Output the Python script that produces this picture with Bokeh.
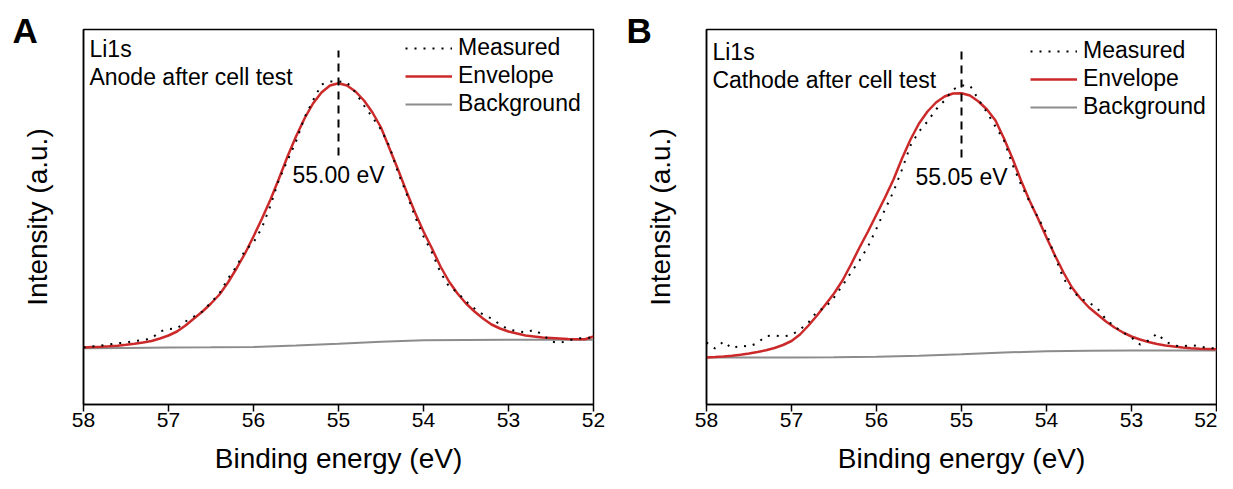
import numpy as np
from bokeh.plotting import figure
from bokeh.models import Range1d, Label, Legend, LegendItem, FixedTicker, Title
from bokeh.layouts import row
from bokeh.embed import file_html
from bokeh.resources import INLINE

FONT = "Liberation Sans"

# ---------------- data ----------------
binding_energy = np.round(np.linspace(58.0, 52.0, 61), 2)      # 0.1 eV grid
bg_energy = np.round(np.linspace(58.0, 52.0, 13), 2)           # 0.5 eV grid
x_ticks = [58, 57, 56, 55, 54, 53, 52]

# Panel A  (anode)
measured_A = [57, 58, 59, 60, 61.3, 62, 63.5, 64.5, 66, 73, 75.5, 76, 83, 88, 93, 102, 111, 126, 138, 154,
              162, 177, 199, 225, 244, 263, 287, 304, 320, 323, 323, 322, 312, 299, 287, 275, 258, 232, 211, 188,
              168, 152, 132, 118, 112, 103, 96, 90, 86, 80, 75, 73.5, 72, 74.7, 70, 63, 61.5, 64, 66, 66.5, 67]
envelope_A = [57, 57.5, 57.8, 58.2, 58.8, 59.7, 60.8, 62, 63.5, 66, 69, 73, 79, 86, 93, 101, 110, 122, 136, 151,
              168, 186, 205, 226, 248, 268, 286, 301, 312, 319, 321.3, 319, 313, 304, 292, 277, 256, 235, 213, 192,
              173, 156, 138, 123, 111, 101, 93, 86, 80, 76, 73, 71, 69, 68, 67, 66.5, 66, 65.5, 65.3, 65.3, 68]
background_A = [56.3, 56.6, 56.9, 57.2, 57.6, 59, 60.8, 62.8, 64.2, 64.6, 64.7, 64.8, 64.8]

# Panel B  (cathode)
measured_B = [62, 56, 63, 56, 59, 58, 61.5, 68.5, 69, 68, 69.5, 75, 82, 93, 97, 107, 119, 132, 144, 158,
              176, 195, 213, 235, 259, 273, 283, 295, 304, 315, 319, 319, 305, 292, 278, 264, 240, 220, 203, 187,
              171, 148, 126, 114, 106, 102, 96, 85, 78, 72, 67, 60, 64, 71, 63, 59, 58, 59.5, 58, 56.5, 56]
envelope_B = [47, 47.4, 48, 48.7, 49.7, 51, 52.5, 54.2, 56.5, 59.5, 63.5, 70, 79, 89, 100, 111, 124, 140, 157, 173,
              190, 207, 225, 246, 265, 281, 293, 302, 308, 311, 311.3, 309, 303, 295, 284, 266, 246, 224, 204, 186,
              167, 149, 132, 117, 106, 97, 90, 83, 77, 72, 68, 65, 62.5, 60.5, 59, 58, 57, 56.3, 55.8, 55.5, 55.2]
background_B = [47, 47, 47.1, 47.3, 47.8, 48.7, 50.3, 52, 53.3, 53.8, 54, 54, 54]

# peak marker (position, dashed line extent) and labels
peak_pos = [55.0, 55.0]
peak_line_top = [354, 354]
peak_line_bottom = [249, 247]
peak_labels = ["55.00 eV", "55.05 eV"]
sample_titles = [["Li1s", "Anode after cell test"], ["Li1s", "Cathode after cell test"]]
panel_letters = ["A", "B"]

RED = "#cc2a2a"
GRAY = "#8c8c8c"


def make_panel(i, meas, env, bg, border_left, border_right, dy, letter_offset, legend_x):
    p = figure(frame_width=510, frame_height=375,
               x_range=Range1d(58, 52), y_range=Range1d(0, 375),
               output_backend="svg", toolbar_location=None,
               min_border_left=border_left, min_border_right=border_right,
               min_border_top=29, min_border_bottom=77,
               background_fill_color="white", border_fill_color="white")
    p.title = Title(text=panel_letters[i], align="left", offset=letter_offset,
                    text_font=FONT, text_font_size="35px", text_font_style="bold",
                    text_color="black", standoff=-40)
    p.xgrid.visible = False
    p.ygrid.visible = False
    p.outline_line_color = "black"
    p.outline_line_width = 1.5

    xa = p.xaxis[0]
    xa.ticker = FixedTicker(ticks=x_ticks)
    xa.minor_tick_line_color = None
    xa.major_tick_out = 7
    xa.major_tick_in = 0
    xa.major_tick_line_width = 1.5
    xa.axis_line_width = 1.5
    xa.major_label_standoff = 1
    xa.major_label_text_font = FONT
    xa.major_label_text_font_size = "21px"
    xa.major_label_text_color = "black"
    xa.axis_label = "Binding energy (eV)"
    xa.axis_label_text_font = FONT
    xa.axis_label_text_font_size = "28px"
    xa.axis_label_text_font_style = "normal"
    xa.axis_label_text_color = "black"
    xa.axis_label_standoff = 13

    ya = p.yaxis[0]
    ya.ticker = FixedTicker(ticks=[])
    ya.minor_tick_line_color = None
    ya.major_tick_line_color = None
    ya.major_label_text_font_size = "0px"
    ya.axis_line_width = 1.5
    ya.axis_label = "Intensity (a.u.)"
    ya.axis_label_text_font = FONT
    ya.axis_label_text_font_size = "28px"
    ya.axis_label_text_font_style = "normal"
    ya.axis_label_text_color = "black"
    ya.axis_label_standoff = 31

    r_bg = p.line(bg_energy, bg, line_color=GRAY, line_width=2)
    r_env = p.line(binding_energy, env, line_color=RED, line_width=2.5)
    r_meas = p.line(binding_energy, meas, line_color="black", line_width=2, line_dash="2 7")

    p.segment(x0=[peak_pos[i]], y0=[peak_line_bottom[i]], x1=[peak_pos[i]], y1=[peak_line_top[i]],
              line_color="black", line_width=2, line_dash="8 6")
    p.add_layout(Label(x=peak_pos[i], y=peak_line_bottom[i] - 19, text=peak_labels[i],
                       text_font=FONT, text_font_size="23px", text_align="center",
                       text_baseline="middle", text_color="black"))

    p.add_layout(Label(x=57.93, y=356 - dy, text=sample_titles[i][0], text_font=FONT,
                       text_font_size="23px", text_baseline="middle", text_color="black"))
    p.add_layout(Label(x=57.93, y=328 - dy, text=sample_titles[i][1], text_font=FONT,
                       text_font_size="23px", text_baseline="middle", text_color="black"))

    legend = Legend(items=[LegendItem(label="Measured", renderers=[r_meas]),
                           LegendItem(label="Envelope", renderers=[r_env]),
                           LegendItem(label="Background", renderers=[r_bg])],
                    location=(legend_x, 287 - dy), glyph_width=47, glyph_height=22, label_height=22,
                    label_standoff=6, spacing=1, padding=0, margin=0,
                    border_line_alpha=0, background_fill_alpha=0,
                    label_text_font=FONT, label_text_font_size="23px", label_text_color="black")
    p.add_layout(legend)
    return p


pA = make_panel(0, measured_A, envelope_A, background_A, 83, 25, 0, -71, 322)
pB = make_panel(1, measured_B, envelope_B, background_B, 88, 1, 3, -80, 324)

layout = row(pA, pB)
open("out.html", "w").write(file_html(layout, INLINE))
